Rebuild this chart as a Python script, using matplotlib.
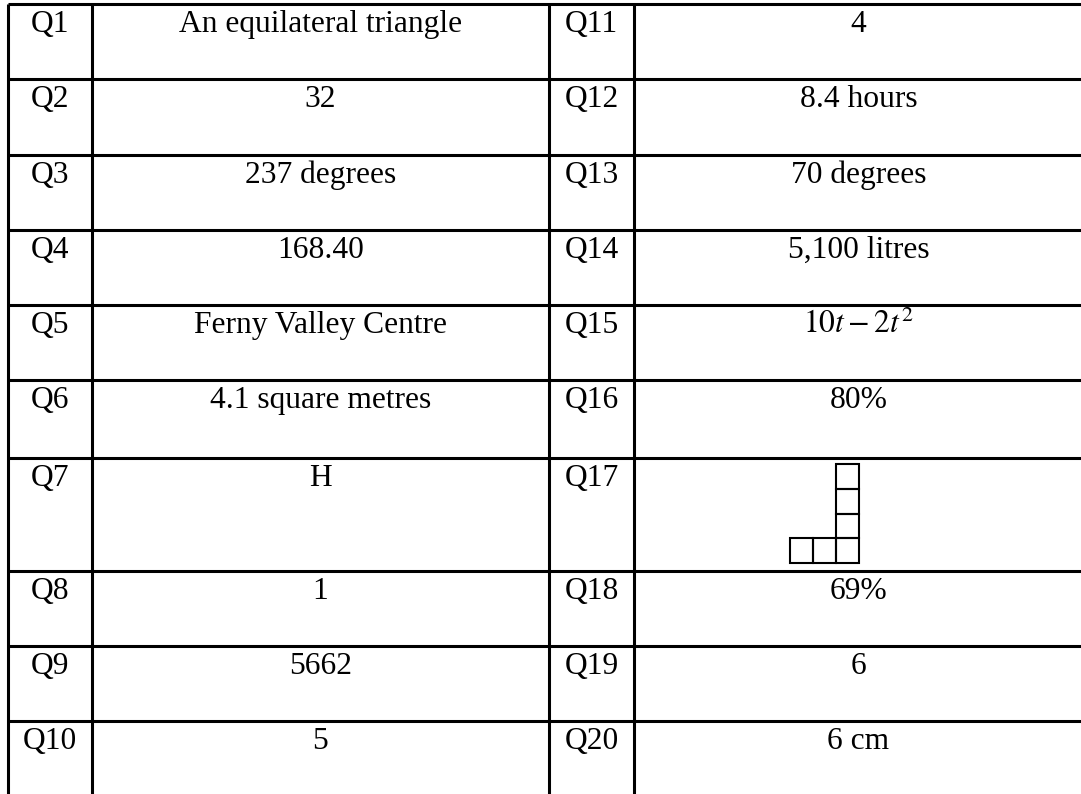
import matplotlib.pyplot as plt
from matplotlib.patches import Rectangle

plt.rcParams['font.family'] = ['Liberation Serif', 'DejaVu Serif']
plt.rcParams['mathtext.fontset'] = 'stix'

# table content
left_q = ['Q1', 'Q2', 'Q3', 'Q4', 'Q5', 'Q6', 'Q7', 'Q8', 'Q9', 'Q10']
left_ans = ['An equilateral triangle', '32', '237 degrees', '168.40',
            'Ferny Valley Centre', '4.1 square metres', 'H', '1', '5662', '5']
right_q = ['Q11', 'Q12', 'Q13', 'Q14', 'Q15', 'Q16', 'Q17', 'Q18', 'Q19', 'Q20']
right_ans = ['4', '8.4 hours', '70 degrees', '5,100 litres', r'$10t-2t^2$',
             '80%', '', '69%', '6', '6 cm']
# Q17 answer is a drawing: unit squares (col, row from bottom)
q17_squares = [(0, 0), (1, 0), (2, 0), (2, 1), (2, 2), (2, 3)]

# layout (pixels)
W, H = 1081, 794
col_x = [8, 92, 549, 634, 1083]
row_tops = [4, 79, 155, 230, 305, 380, 458, 571, 646, 721]
lw = 2.2

fig = plt.figure(figsize=(W / 100, H / 100), dpi=100)
ax = fig.add_axes([0, 0, 1, 1])
ax.set_xlim(0, W)
ax.set_ylim(H, 0)
ax.axis('off')

# horizontal rules
for y in row_tops:
    ax.plot([col_x[0], W], [y, y], color='black', lw=lw, solid_capstyle='butt')
# vertical rules
for x in col_x[:4]:
    ax.plot([x, x], [row_tops[0], H], color='black', lw=lw, solid_capstyle='butt')

fs = 22.7
for i, top in enumerate(row_tops):
    base = top + 28
    ax.text((col_x[0] + col_x[1]) / 2, base, left_q[i], ha='center', va='baseline', fontsize=fs)
    ax.text((col_x[1] + col_x[2]) / 2, base, left_ans[i], ha='center', va='baseline', fontsize=fs)
    ax.text((col_x[2] + col_x[3]) / 2, base, right_q[i], ha='center', va='baseline', fontsize=fs)
    ax.text((col_x[3] + col_x[4]) / 2, base, right_ans[i], ha='center', va='baseline', fontsize=fs)

# Q17 drawing
sq_w, sq_h = 23, 24.7
x0, y_bottom = 790, 563
for c, r in q17_squares:
    ax.add_patch(Rectangle((x0 + c * sq_w, y_bottom - (r + 1) * sq_h), sq_w, sq_h,
                           fill=False, edgecolor='black', lw=1.5))

fig.savefig('out.png', dpi=100)
